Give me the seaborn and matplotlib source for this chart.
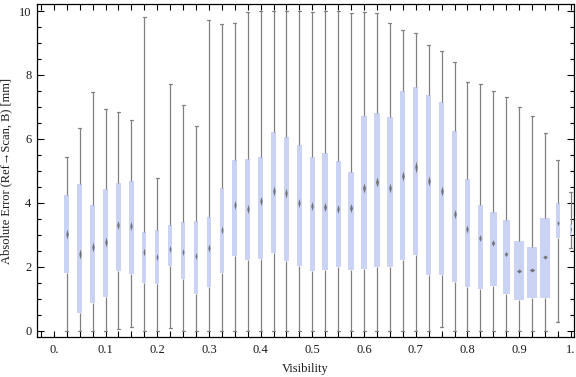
import numpy as np
import pandas as pd
import matplotlib
matplotlib.use("Agg")
import matplotlib.pyplot as plt
import seaborn as sns
from matplotlib.ticker import FixedLocator, MultipleLocator

# box-whisker summary per visibility bin
visibility = [0.025, 0.05, 0.075, 0.1, 0.125, 0.15, 0.175, 0.2, 0.225, 0.25,
              0.275, 0.3, 0.325, 0.35, 0.375, 0.4, 0.425, 0.45, 0.475, 0.5,
              0.525, 0.55, 0.575, 0.6, 0.625, 0.65, 0.675, 0.7, 0.725, 0.75,
              0.775, 0.8, 0.825, 0.85, 0.875, 0.9, 0.925, 0.95, 0.975, 1.0]
whisker_hi = [5.42, 6.33, 7.46, 6.93, 6.83, 6.58, 9.81, 4.77, 7.71, 7.05,
              6.39, 9.71, 9.58, 9.62, 9.96, 9.99, 10.0, 10.0, 10.0, 9.96,
              10.0, 10.0, 9.93, 9.97, 9.93, 9.62, 9.40, 9.30, 8.93, 8.74,
              8.39, 7.77, 7.71, 7.50, 7.30, 6.99, 6.71, 6.17, 5.33, 4.33]
q3 = [4.24, 4.59, 3.93, 4.42, 4.62, 4.68, 3.09, 3.15, 3.31, 3.40,
      3.43, 3.56, 4.46, 5.34, 5.37, 5.42, 6.22, 6.06, 5.81, 5.43,
      5.56, 5.31, 4.96, 6.72, 6.80, 6.68, 7.50, 7.61, 7.36, 7.14,
      6.24, 4.75, 3.93, 3.71, 3.45, 2.81, 2.61, 3.53, 3.99, 3.35]
median = [3.01, 2.40, 2.62, 2.77, 3.31, 3.27, 2.46, 2.30, 2.56, 2.47,
          2.35, 2.58, 3.15, 3.92, 3.82, 4.06, 4.38, 4.30, 4.00, 3.91,
          3.88, 3.80, 3.85, 4.47, 4.64, 4.45, 4.85, 5.13, 4.68, 4.37,
          3.66, 3.19, 2.91, 2.74, 2.40, 1.88, 1.90, 2.31, 3.38, 3.18]
q1 = [1.81, 0.56, 0.85, 1.06, 1.87, 1.77, 1.49, 1.46, 2.03, 1.60,
      1.16, 1.35, 1.80, 2.34, 2.22, 2.23, 2.44, 2.17, 2.01, 1.88,
      1.91, 2.00, 1.91, 1.94, 2.00, 2.00, 2.22, 2.38, 1.75, 1.75,
      1.51, 1.36, 1.31, 1.39, 1.15, 0.97, 1.01, 1.03, 2.91, 2.99]
whisker_lo = [0.0, 0.0, 0.0, 0.0, 0.04, 0.12, 0.0, 0.0, 0.07, 0.0,
              0.0, 0.0, 0.0, 0.0, 0.0, 0.0, 0.0, 0.0, 0.0, 0.0,
              0.0, 0.0, 0.0, 0.0, 0.0, 0.0, 0.0, 0.0, 0.0, 0.12,
              0.0, 0.0, 0.0, 0.0, 0.0, 0.0, 0.0, 0.0, 0.26, 2.60]

x_ticks = [0.0, 0.1, 0.2, 0.3, 0.4, 0.5, 0.6, 0.7, 0.8, 0.9, 1.0]
x_tick_labels = ["0.", "0.1", "0.2", "0.3", "0.4", "0.5", "0.6", "0.7", "0.8", "0.9", "1."]
y_ticks = [0, 2, 4, 6, 8, 10]

# drawing style per box, in pixels (box width, median marker height)
box_px = [5, 5, 5, 5, 5, 5, 4, 4, 4, 4,
          4, 4.7, 4, 4.7, 5, 5, 5, 5, 5, 5,
          6, 5, 6, 6, 6, 5.3, 5.3, 5, 5.3, 5.3,
          5.3, 5, 5.3, 7, 7, 10, 10.7, 9.7, 4.3, 2.5]
notch_px = [10, 10, 10, 10, 9, 9, 8, 7, 7, 7,
            7, 8, 8, 9, 9, 9, 10, 10, 9, 9,
            9, 9, 9, 10, 10, 10, 10, 12, 10, 10,
            9, 8, 7, 6, 5, 4, 4, 4, 5, 5]

box_color = "#cbd3f5"
line_color = "#808080"

sns.set_style("ticks")
plt.rcParams["font.family"] = ["Liberation Serif", "DejaVu Serif"]

fig = plt.figure(figsize=(5.76, 3.77), dpi=100)
ax = fig.add_axes([37 / 576, 40 / 377, 537 / 576, 333 / 377])

xmin, xmax = -0.0325, 1.006
px = (xmax - xmin) / 537  # data units per pixel

for i, v in enumerate(visibility):
    stats = pd.DataFrame({
        "Visibility": v,
        "Error": [whisker_lo[i], q1[i], median[i], q3[i], whisker_hi[i]],
    })
    sns.boxplot(data=stats, x="Visibility", y="Error", native_scale=True,
                orient="x", width=box_px[i] * px, whis=np.inf,
                color=box_color, saturation=1, linecolor=line_color,
                linewidth=0.9, boxprops=dict(linewidth=0),
                medianprops=dict(visible=False), capwidths=3 * px, ax=ax)

    # diamond median marker
    half_w = box_px[i] / 4
    half_h = notch_px[i] / 2
    verts = [(0, -half_h), (half_w, 0), (0, half_h), (-half_w, 0), (0, -half_h)]
    size = 2 * max(half_w, half_h) * 0.72
    sns.scatterplot(x=[v], y=[median[i]], marker=verts, s=size ** 2,
                    color="#6a6a6a", alpha=0.9, linewidth=0, zorder=5, ax=ax)

ax.set_xlim(xmin, xmax)
ax.set_ylim(-0.2, 10.22)
ax.xaxis.set_major_locator(FixedLocator(x_ticks))
ax.set_xticklabels(x_tick_labels)
ax.xaxis.set_minor_locator(MultipleLocator(0.025))
ax.yaxis.set_major_locator(FixedLocator(y_ticks))
ax.yaxis.set_minor_locator(MultipleLocator(0.5))

ax.tick_params(which="both", direction="in", top=True, right=True,
               width=0.8, color="black", labelsize=9, labelcolor="#1a1a1a")
ax.tick_params(axis="x", which="both", length=4, pad=5)
ax.tick_params(axis="y", which="major", length=5, pad=4)
ax.tick_params(axis="y", which="minor", length=3)

for sp in ax.spines.values():
    sp.set_color("black")
    sp.set_linewidth(0.9)

ax.set_xlabel("Visibility", fontsize=9, color="#1a1a1a", labelpad=5)
ax.set_ylabel("Absolute Error (Ref\u2192Scan, B) [mm]", fontsize=9,
              color="#1a1a1a", labelpad=5)

fig.savefig("out.png", dpi=100)
